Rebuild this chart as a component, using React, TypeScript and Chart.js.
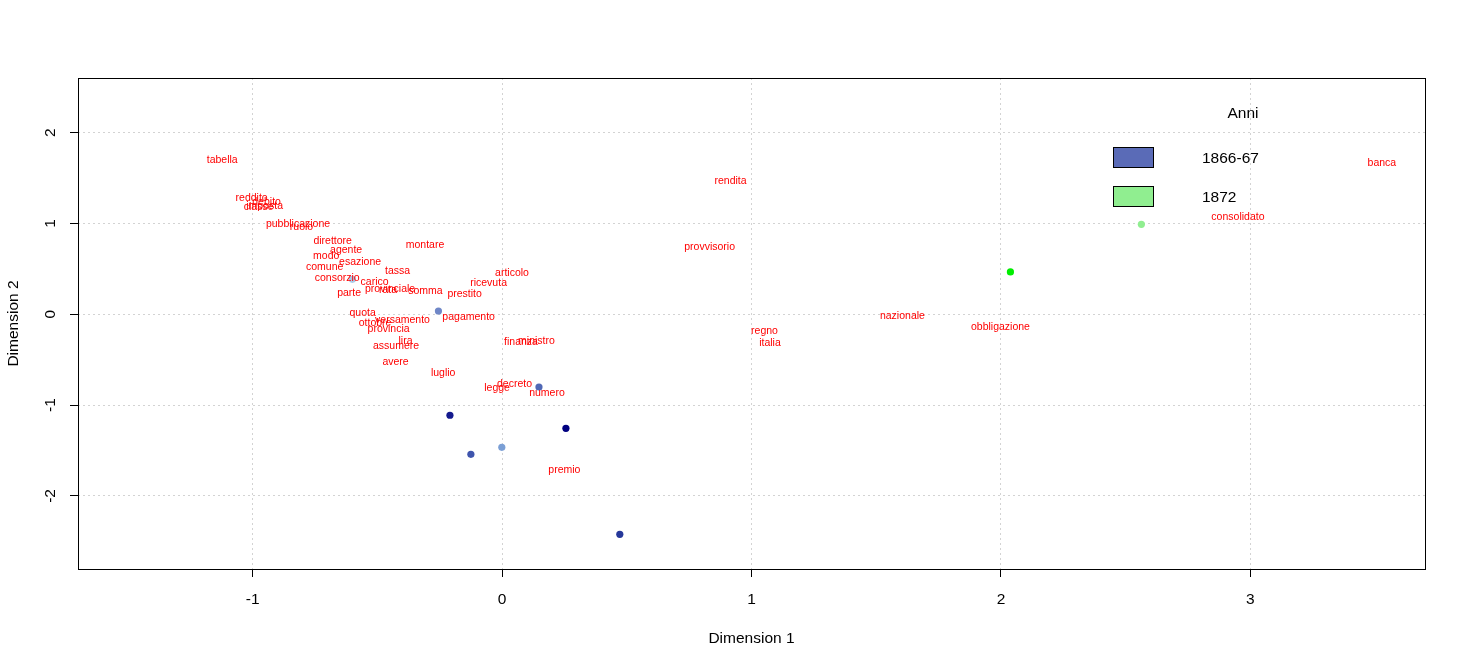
"use client"

import { useEffect, useRef } from "react"
import { Chart, registerables } from "chart.js"

Chart.register(...registerables)

// word coordinates on the two dimensions
const words = [
  "tabella", "reddito", "debito", "classe", "imposta", "pubblicazione", "ruolo", "direttore",
  "agente", "modo", "esazione", "comune", "consorzio", "carico", "tassa", "montare",
  "parte", "provinciale", "rata", "somma", "articolo", "ricevuta", "prestito", "pagamento",
  "quota", "ottobre", "versamento", "provincia", "lira", "assumere", "avere", "luglio",
  "finanza", "ministro", "decreto", "legge", "numero", "premio", "rendita", "provvisorio",
  "regno", "italia", "nazionale", "obbligazione", "consolidato", "banca",
]
const wordX = [
  -1.122, -1.004, -0.944, -0.976, -0.952, -0.818, -0.804, -0.679,
  -0.625, -0.705, -0.569, -0.711, -0.661, -0.511, -0.419, -0.309,
  -0.613, -0.449, -0.457, -0.307, 0.040, -0.054, -0.150, -0.134,
  -0.559, -0.509, -0.399, -0.455, -0.387, -0.425, -0.427, -0.236,
  0.076, 0.138, 0.050, -0.020, 0.180, 0.250, 0.916, 0.832,
  1.052, 1.074, 1.605, 1.998, 2.950, 3.527,
]
const wordY = [
  1.707, 1.292, 1.248, 1.193, 1.204, 1.002, 0.972, 0.818,
  0.716, 0.656, 0.584, 0.532, 0.414, 0.370, 0.488, 0.774,
  0.249, 0.293, 0.279, 0.268, 0.463, 0.359, 0.231, -0.015,
  0.025, -0.085, -0.055, -0.148, -0.283, -0.341, -0.518, -0.639,
  -0.297, -0.286, -0.760, -0.801, -0.852, -1.704, 1.479, 0.752,
  -0.173, -0.305, -0.008, -0.129, 1.086, 1.674,
]

// document coordinates
const pointX = [-0.600, -0.255, -0.209, -0.125, -0.001, 0.256, 0.148, 0.472, 2.038, 2.563]
const pointY = [0.385, 0.036, -1.112, -1.542, -1.465, -1.256, -0.801, -2.423, 0.466, 0.991]
const pointColors = [
  "#a9cbe8", "#6f87c7", "#141a8e", "#3f55ad", "#7b9fd5",
  "#000080", "#5068b5", "#26389a", "#00ee00", "#90ee90",
]

const legendTitle = "Anni"
const legendLabels = ["1866-67", "1872"]
const legendColors = ["#5a6bb7", "#90ee90"]

const xTicks = [-1, 0, 1, 2, 3]
const yTicks = [-2, -1, 0, 1, 2]

const FONT = "'Liberation Sans', Arial, sans-serif"

const overlay = {
  id: "overlay",
  afterDatasetsDraw(chart: any) {
    const { ctx, chartArea, scales } = chart
    const x = scales.x
    const y = scales.y
    ctx.save()

    // word labels
    ctx.font = `10.5px ${FONT}`
    ctx.fillStyle = "#ff0000"
    ctx.textAlign = "center"
    ctx.textBaseline = "middle"
    words.forEach((w, i) => {
      ctx.fillText(w, x.getPixelForValue(wordX[i]), y.getPixelForValue(wordY[i]) + 1)
    })

    // box around the plot
    ctx.strokeStyle = "#000"
    ctx.lineWidth = 1
    ctx.strokeRect(
      Math.round(chartArea.left) + 0.5,
      Math.round(chartArea.top) + 0.5,
      Math.round(chartArea.right - chartArea.left),
      Math.round(chartArea.bottom - chartArea.top)
    )

    // rotated y tick labels
    ctx.font = `15.5px ${FONT}`
    ctx.fillStyle = "#000"
    yTicks.forEach((v) => {
      ctx.save()
      ctx.translate(51, y.getPixelForValue(v))
      ctx.rotate(-Math.PI / 2)
      ctx.textAlign = "center"
      ctx.textBaseline = "middle"
      ctx.fillText(String(v), 0, 0)
      ctx.restore()
    })

    // legend
    ctx.textAlign = "center"
    ctx.textBaseline = "middle"
    ctx.fillText(legendTitle, 1243, 114)
    legendLabels.forEach((label, i) => {
      const top = 147 + i * 39
      ctx.fillStyle = legendColors[i]
      ctx.fillRect(1113, top, 40, 20)
      ctx.strokeStyle = "#000"
      ctx.strokeRect(1113.5, top + 0.5, 40, 20)
      ctx.fillStyle = "#000"
      ctx.textAlign = "left"
      ctx.fillText(label, 1202, top + 12)
    })

    ctx.restore()
  },
}

export default function App() {
  const chartRef = useRef<HTMLCanvasElement>(null)
  const chartInstance = useRef<Chart | null>(null)

  useEffect(() => {
    if (!chartRef.current) return
    if (chartInstance.current) {
      chartInstance.current.destroy()
    }
    const ctx = chartRef.current.getContext("2d")
    if (!ctx) return

    const gridOpts = {
      color: "#d3d3d3",
      lineWidth: 1,
      tickColor: "#000",
      tickLength: 8,
      tickWidth: 1,
      tickBorderDash: [],
    }

    chartInstance.current = new Chart(ctx, {
      type: "scatter",
      data: {
        datasets: [
          {
            data: pointX.map((px, i) => ({ x: px, y: pointY[i] })),
            backgroundColor: pointColors,
            borderWidth: 0,
            pointRadius: 3.6,
            pointHoverRadius: 3.6,
          },
        ],
      },
      options: {
        animation: false,
        responsive: true,
        maintainAspectRatio: false,
        layout: { padding: { left: 0, top: 78, right: 41, bottom: 0 } },
        plugins: {
          legend: { display: false },
          tooltip: { enabled: false },
        },
        scales: {
          x: {
            type: "linear",
            min: -1.70,
            max: 3.70,
            afterBuildTicks: (scale: any) => {
              scale.ticks = xTicks.map((v) => ({ value: v }))
            },
            afterFit: (scale: any) => {
              scale.height = 98
            },
            grid: gridOpts,
            border: { display: false, dash: [2, 3] },
            ticks: {
              color: "#000",
              font: { family: FONT, size: 15.5 },
              padding: 13,
              maxRotation: 0,
            },
            title: {
              display: true,
              text: "Dimension 1",
              color: "#000",
              font: { family: FONT, size: 15.5 },
              padding: { top: 0, bottom: 19 },
            },
          },
          y: {
            type: "linear",
            min: -2.805,
            max: 2.602,
            afterBuildTicks: (scale: any) => {
              scale.ticks = yTicks.map((v) => ({ value: v }))
            },
            afterFit: (scale: any) => {
              scale.width = 78
            },
            grid: gridOpts,
            border: { display: false, dash: [2, 3] },
            ticks: { display: false },
            title: {
              display: true,
              text: "Dimension 2",
              color: "#000",
              font: { family: FONT, size: 15.5 },
              padding: { top: 4, bottom: 0 },
            },
          },
        },
      },
      plugins: [overlay],
    })

    return () => {
      if (chartInstance.current) {
        chartInstance.current.destroy()
        chartInstance.current = null
      }
    }
  }, [])

  return (
    <div style={{ position: "fixed", left: 0, top: 0, width: 1466, height: 667, background: "#fff" }}>
      <canvas ref={chartRef} />
    </div>
  )
}
